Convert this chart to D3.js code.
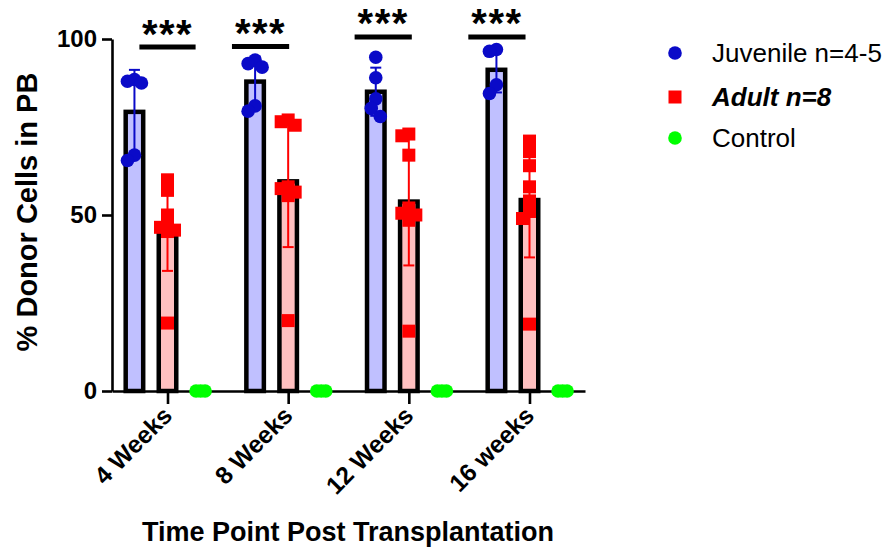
<!DOCTYPE html>
<html>
<head>
<meta charset="utf-8">
<script src="https://cdn.jsdelivr.net/npm/d3@7"></script>
<style>
  html, body { margin: 0; padding: 0; background: #fff; }
  svg text { font-family: "Liberation Sans", Arial, sans-serif; }
</style>
</head>
<body>
<svg id="chart" width="891" height="552"></svg>
<script>
// ---- data ----
const groups = ["4 Weeks", "8 Weeks", "12 Weeks", "16 weeks"];
const seriesNames = ["Juvenile n=4-5", "Adult n=8", "Control"];
const juvenile = [
  [88.5, 88, 87.5, 67, 65.5],
  [94, 93, 92, 81, 79.5],
  [94.8, 89, 83, 80.3, 78],
  [97, 96.5, 87, 84.5]
];
const adult = [
  [60, 57, 50, 47, 46.5, 45.7, 45.3, 19.3],
  [77, 76.5, 75.5, 58, 57.5, 56.5, 55.5, 20],
  [73, 72.5, 67, 52, 50.5, 50, 48.5, 17],
  [71, 68, 64, 58, 54, 51, 49, 19]
];
const control = [
  [0, 0, 0],
  [0, 0, 0],
  [0, 0, 0],
  [0, 0, 0]
];
const yTicks = [0, 50, 100];
const significance = ["***", "***", "***", "***"];
const xTitle = "Time Point Post Transplantation";
const yTitle = "% Donor Cells in PB";

// ---- layout / style ----
const FONT = '"Liberation Sans", Arial, sans-serif';
const colors = {
  juv: { pt: "#0a0ac8", bar: "#c0c0ff" },
  adult: { pt: "#ff0000", bar: "#ffc0c0" },
  control: { pt: "#00ff00", bar: "none" }
};
// significance bar extents, in units of sub-bar spacing, and level (data units)
const sigLayout = [
  { x0: -0.85, x1: 0.85, level: 97.7 },
  { x0: -1.70, x1: 0.03, level: 97.9 },
  { x0: -1.64, x1: 0.09, level: 100.6 },
  { x0: -1.85, x1: -0.12, level: 100.6 }
];

const svg = d3.select("#chart");
const y = d3.scaleLinear().domain([0, 100]).range([391, 39]);
const gx = d3.scalePoint().domain(groups).range([112, 585]).padding(0.46);
const subKeys = ["juv", "adult", "control"];
const subStep = gx.step() * 0.274;
const sub = d3.scalePoint().domain(subKeys).range([-subStep, subStep]);

const barW = 17.5;

const seriesData = { juv: juvenile, adult: adult, control: control };

// bars
subKeys.filter(k => k !== "control").forEach(k => {
  svg.append("g").selectAll("rect")
    .data(groups.map((g, i) => ({ g, m: d3.mean(seriesData[k][i]) })))
    .join("rect")
    .attr("x", d => gx(d.g) + sub(k) - barW / 2)
    .attr("y", d => y(d.m))
    .attr("width", barW)
    .attr("height", d => y(0) - y(d.m))
    .attr("fill", colors[k].bar)
    .attr("stroke", "#000")
    .attr("stroke-width", 4.5);
});

// axes
const yAxis = svg.append("g")
  .attr("transform", `translate(112,0)`)
  .call(d3.axisLeft(y).tickValues(yTicks).tickSize(10).tickSizeOuter(0).tickPadding(5));
yAxis.select(".domain").attr("stroke-width", 2.6);
yAxis.selectAll(".tick line").attr("stroke-width", 2.6);
yAxis.selectAll(".tick text").attr("font-size", 24).attr("font-weight", "bold")
  .attr("font-family", FONT).attr("fill", "#000");

const xAxis = svg.append("g")
  .attr("transform", `translate(0,${y(0)})`)
  .call(d3.axisBottom(gx).tickSize(13).tickSizeOuter(0).tickFormat(""));
xAxis.select(".domain").attr("stroke-width", 2.6);
xAxis.selectAll(".tick line").attr("stroke-width", 2.6);

svg.append("g").selectAll("text")
  .data(groups)
  .join("text")
  .attr("transform", d => `translate(${gx(d) + 0},${y(0) + 20}) rotate(-45)`)
  .attr("text-anchor", "end")
  .attr("dy", "0.35em")
  .attr("font-size", 24.5)
  .attr("font-weight", "bold")
  .attr("font-family", FONT)
  .text(d => d);

// error bars (mean ± SD)
subKeys.filter(k => k !== "control").forEach(k => {
  const eg = svg.append("g");
  groups.forEach((g, i) => {
    const v = seriesData[k][i];
    const m = d3.mean(v), sd = d3.deviation(v);
    const cx = gx(g) + sub(k);
    eg.append("line").attr("x1", cx).attr("x2", cx)
      .attr("y1", y(m - sd)).attr("y2", y(m + sd))
      .attr("stroke", colors[k].pt).attr("stroke-width", 2);
    [m - sd, m + sd].forEach(e => {
      eg.append("line").attr("x1", cx - 5.5).attr("x2", cx + 5.5)
        .attr("y1", y(e)).attr("y2", y(e))
        .attr("stroke", colors[k].pt).attr("stroke-width", 2);
    });
  });
});

// deterministic swarm offsets
function swarm(vals, minD) {
  const order = vals.map((v, i) => ({ v, i })).sort((a, b) => b.v - a.v);
  const cands = [0, -4.5, 4.5, -7, 7];
  const placed = [];
  const out = new Array(vals.length);
  order.forEach(o => {
    const py = y(o.v);
    let best = cands[0], bestD = -1;
    for (const c of cands) {
      const d = placed.length ? d3.min(placed, p => Math.hypot(p.x - c, p.y - py)) : Infinity;
      if (d >= minD) { best = c; bestD = d; break; }
      if (d > bestD) { bestD = d; best = c; }
    }
    placed.push({ x: best, y: py });
    out[o.i] = best;
  });
  return out;
}

// points
subKeys.forEach(k => {
  const pg = svg.append("g");
  groups.forEach((g, i) => {
    const v = seriesData[k][i];
    const offs = k === "control" ? swarm(v, 20).map(o => Math.max(-4.5, Math.min(4.5, o))) : swarm(v, 10);
    const cx = gx(g) + sub(k);
    v.forEach((val, j) => {
      if (k === "adult") {
        pg.append("rect")
          .attr("x", cx + offs[j] - 6.5).attr("y", y(val) - 6.5)
          .attr("width", 13).attr("height", 13)
          .attr("fill", colors[k].pt);
      } else {
        pg.append("circle")
          .attr("cx", cx + offs[j]).attr("cy", y(val))
          .attr("r", 6.8).attr("fill", colors[k].pt);
      }
    });
  });
});

// significance annotations
groups.forEach((g, i) => {
  const s = sigLayout[i];
  const x0 = gx(g) + s.x0 * subStep, x1 = gx(g) + s.x1 * subStep;
  const ly = y(s.level);
  svg.append("line").attr("x1", x0).attr("x2", x1).attr("y1", ly).attr("y2", ly)
    .attr("stroke", "#000").attr("stroke-width", 5);
  svg.append("text")
    .attr("x", (x0 + x1) / 2).attr("y", ly + 0.5)
    .attr("text-anchor", "middle")
    .attr("font-size", 40).attr("font-weight", "bold").attr("font-family", FONT)
    .attr("letter-spacing", 1.5)
    .text(significance[i]);
});

// axis titles
svg.append("text")
  .attr("x", 348).attr("y", 541)
  .attr("text-anchor", "middle")
  .attr("font-size", 27).attr("font-weight", "bold").attr("font-family", FONT)
  .text(xTitle);
svg.append("text")
  .attr("transform", `translate(37,212) rotate(-90)`)
  .attr("text-anchor", "middle")
  .attr("font-size", 29).attr("font-weight", "bold").attr("font-family", FONT)
  .text(yTitle);

// legend
const legY = [53, 97, 138];
const lg = svg.append("g");
subKeys.forEach((k, i) => {
  if (k === "adult") {
    lg.append("rect").attr("x", 675 - 6.5).attr("y", legY[i] - 6.5)
      .attr("width", 13).attr("height", 13).attr("fill", colors[k].pt);
  } else {
    lg.append("circle").attr("cx", 675).attr("cy", legY[i]).attr("r", 6.8).attr("fill", colors[k].pt);
  }
  lg.append("text")
    .attr("x", 712).attr("y", legY[i])
    .attr("dy", "0.36em")
    .attr("font-size", 26)
    .attr("font-family", FONT)
    .attr("font-weight", k === "adult" ? "bold" : "normal")
    .attr("font-style", k === "adult" ? "italic" : "normal")
    .text(seriesNames[i]);
});
</script>
</body>
</html>
